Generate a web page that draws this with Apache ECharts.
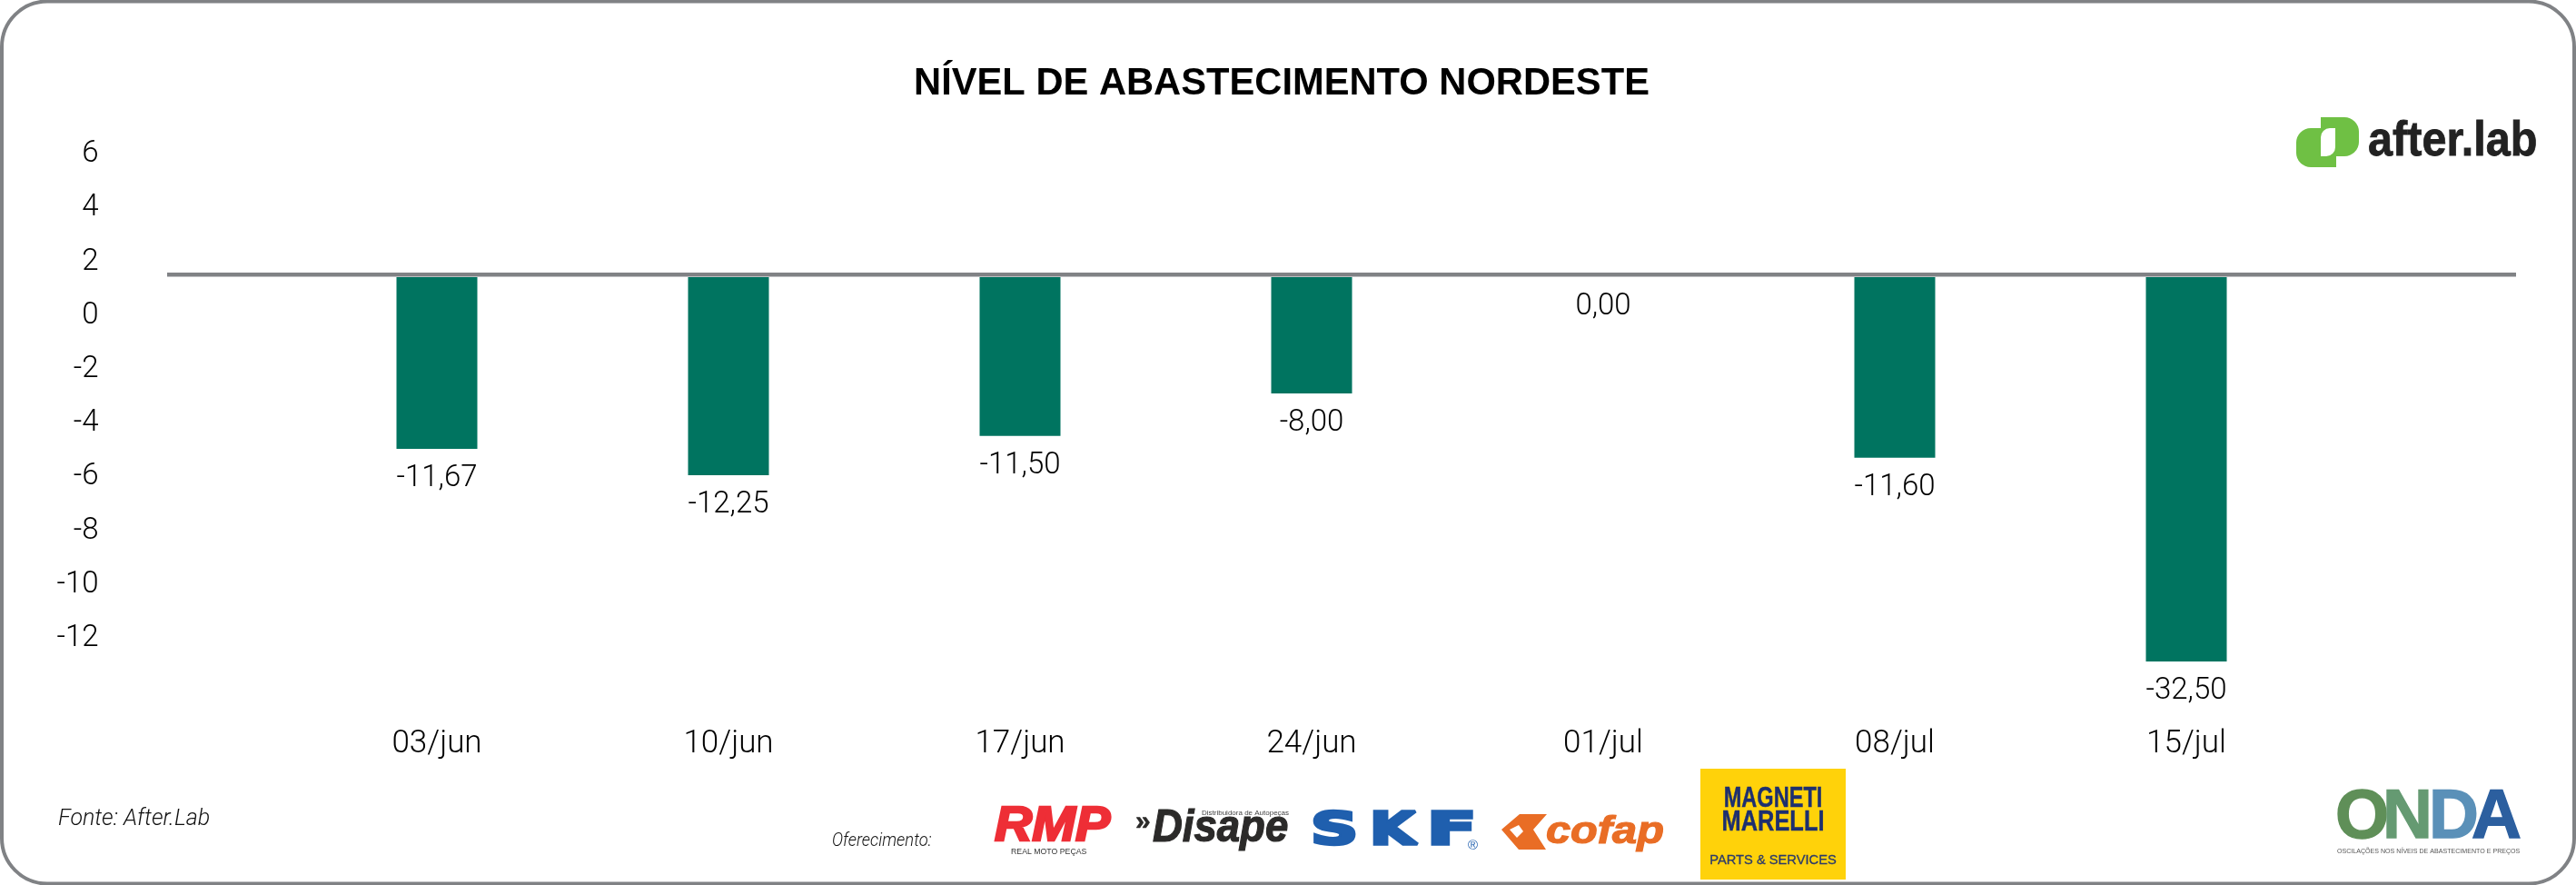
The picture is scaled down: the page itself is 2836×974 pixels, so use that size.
<!DOCTYPE html>
<html>
<head>
<meta charset="utf-8">
<style>html,body{margin:0;padding:0;background:#fff}#c{width:2836px;height:974px}</style>
<script src="https://cdn.jsdelivr.net/npm/echarts@6/dist/echarts.min.js"></script>
</head>
<body>
<div id="c"></div>
<script>
const titleText = 'NÍVEL DE ABASTECIMENTO NORDESTE';
const categories = ['03/jun', '10/jun', '17/jun', '24/jun', '01/jul', '08/jul', '15/jul'];
// where each bar ends, read on the printed axis
const barEnds = [-5.05, -6.03, -4.57, -2.99, 1.34, -5.38, -12.95];
// the numbers printed under the bars
const printedLabels = [-11.67, -12.25, -11.50, -8.00, 0.00, -11.60, -32.50];
// the bars hang from this axis value, not from zero
const barBase = 1.34;
const baselineValue = 1.43;
const yTicks = [6, 4, 2, 0, -2, -4, -6, -8, -10, -12];

const SANS = 'Roboto';
const LIB = 'Liberation Sans';
const chart = echarts.init(document.getElementById('c'), null, {renderer: 'canvas'});
const txt = (x, y, text, size, fill, extra, sx) => ({
  type: 'text', x, y, silent: true, scaleX: sx || 1,
  style: Object.assign({text, fontSize: size, fill, fontFamily: SANS, align: 'left', verticalAlign: 'middle'}, extra || {})
});
const rect = (x, y, w, h, fill, r) => ({
  type: 'rect', silent: true, shape: {x, y, width: w, height: h, r: r || 0}, style: {fill}
});
const heavy = (color, w, italic, align) => ({
  fontFamily: LIB, fontWeight: 'bold', fontStyle: italic ? 'italic' : 'normal', stroke: color, lineWidth: w, align: align || 'left'
});
const skfStyle = {fontFamily: 'DejaVu Sans', fontWeight: 'bold', stroke: '#1f5fae', lineWidth: 3.5};
const fmt = v => v.toFixed(2).replace('.', ',');

chart.setOption({
  animation: false,
  backgroundColor: '#fff',
  title: {
    text: titleText, left: 1406, top: 88, textAlign: 'center', textVerticalAlign: 'middle',
    textStyle: {fontFamily: LIB, fontWeight: 'bold', fontSize: 41.7, color: '#000'}
  },
  grid: {left: 320.5, width: 2247, top: 167, height: 592, containLabel: false},
  xAxis: {
    type: 'category', data: categories,
    axisLine: {show: false, onZero: false}, axisTick: {show: false},
    axisLabel: {margin: 43, fontSize: 35, color: '#000', fontFamily: SANS, fontWeight: 300}
  },
  yAxis: {
    type: 'value', min: -14, max: 6, interval: 2,
    splitLine: {show: false}, axisLine: {show: false}, axisTick: {show: false},
    axisLabel: {
      customValues: yTicks, margin: 212, align: 'right',
      formatter: v => '{t|' + v + '}',
      rich: {t: {fontSize: 33, color: '#000', fontFamily: SANS, fontWeight: 300, padding: [6, 0, 0, 0]}}
    }
  },
  series: [{
    type: 'custom',
    name: 'Nível de abastecimento',
    clip: false,
    encode: {x: 0, y: 1},
    data: barEnds.map((v, i) => [i, v]),
    renderItem: (params, api) => {
      const i = api.value(0);
      const end = api.coord([i, api.value(1)]);
      const start = api.coord([i, barBase]);
      const w = api.size([1, 0])[0] * 89 / 321;
      return {
        type: 'group',
        children: [
          {type: 'rect', shape: {x: end[0] - w / 2, y: start[1], width: w, height: end[1] - start[1]},
           style: {fill: '#007460'}},
          {type: 'text', x: end[0], y: end[1] + 33,
           style: {text: fmt(printedLabels[i]), fontFamily: SANS, fontWeight: 300, fontSize: 33,
                   fill: '#000', align: 'center', verticalAlign: 'middle'}}
        ]
      };
    }
  }]
});

const baseY = chart.convertToPixel({yAxisIndex: 0}, baselineValue);
chart.setOption({
  graphic: {elements: [
    {type: 'rect', silent: true, z: 100, shape: {x: 2, y: 1.5, width: 2832, height: 971, r: 50},
     style: {fill: 'none', stroke: '#808285', lineWidth: 4}},
    {type: 'line', silent: true, z: 50, shape: {x1: 184, y1: baseY, x2: 2770, y2: baseY},
     style: {stroke: '#808285', lineWidth: 4.5}},

    // after.lab
    rect(2528, 141, 44, 43, '#6fc044', [16, 0, 0, 16]),
    rect(2555, 129, 42, 43, '#6fc044', [0, 16, 16, 0]),
    rect(2555, 141, 16, 31, '#ffffff', [10, 0, 10, 0]),
    txt(2607, 156, 'after.lab', 54, '#222222', heavy('#222222', 0.8), 0.9),

    // source + sponsors
    txt(64, 902, 'Fonte: After.Lab', 25, '#111', {fontStyle: 'italic', fontWeight: 300}),
    txt(916, 926, 'Oferecimento:', 20, '#111', {fontStyle: 'italic', fontWeight: 300}, 0.92),

    txt(1095, 910, 'RMP', 53, '#ee2e36', heavy('#ee2e36', 2.5, true), 1.08),
    txt(1113, 937, 'REAL MOTO PEÇAS', 9.5, '#333', {fontFamily: LIB}, 0.92),

    txt(1250, 905, '»', 30, '#2b2a29', heavy('#2b2a29', 0.5)),
    txt(1269, 912, 'Disape', 50, '#2b2a29', heavy('#2b2a29', 1.2, true), 0.91),
    txt(1323, 895, 'Distribuidora de Autopeças', 8, '#444', {fontFamily: LIB}),

    txt(1443, 916, 'S', 50, '#1f5fae', skfStyle, 1.45),
    txt(1508, 916, 'K', 50, '#1f5fae', skfStyle, 1.3),
    txt(1571, 916, 'F', 50, '#1f5fae', skfStyle, 1.6),
    txt(1616, 931, '®', 15, '#1f5fae', {fontFamily: LIB}),

    {type: 'polygon', silent: true,
     shape: {points: [[1653, 913], [1673, 896], [1703, 896], [1688, 913], [1702, 935], [1672, 935]]},
     style: {fill: '#e96d25'}},
    {type: 'polygon', silent: true,
     shape: {points: [[1662, 913], [1672, 908], [1677, 915], [1670, 922]]},
     style: {fill: '#ffffff'}},
    txt(1702, 916, 'cofap', 42, '#e96d25', heavy('#e96d25', 1.2, true), 1.16),

    rect(1872, 846, 160, 122, '#ffd20a'),
    txt(1952, 879, 'MAGNETI', 31, '#1d2f6f', heavy('#1d2f6f', 0.4, false, 'center'), 0.76),
    txt(1952, 905, 'MARELLI', 31, '#1d2f6f', heavy('#1d2f6f', 0.4, false, 'center'), 0.82),
    txt(1952, 947, 'PARTS & SERVICES', 14.7, '#2b3a6b', {fontFamily: LIB, align: 'center', stroke: '#2b3a6b', lineWidth: 0.3}),

    // ONDA
    txt(2571, 901, 'O', 76, '#5f8f58', heavy('#5f8f58', 1.5)),
    txt(2623, 901, 'N', 76, '#659a72', heavy('#659a72', 1.5)),
    txt(2674, 901, 'D', 76, '#5a90b8', heavy('#5a90b8', 1.5)),
    txt(2721, 901, 'A', 76, '#2c5f9f', heavy('#2c5f9f', 1.5)),
    txt(2573, 937, 'OSCILAÇÕES NOS NÍVEIS DE ABASTECIMENTO E PREÇOS', 8, '#555', {fontFamily: LIB}, 0.885)
  ]}
});
</script>
</body>
</html>
